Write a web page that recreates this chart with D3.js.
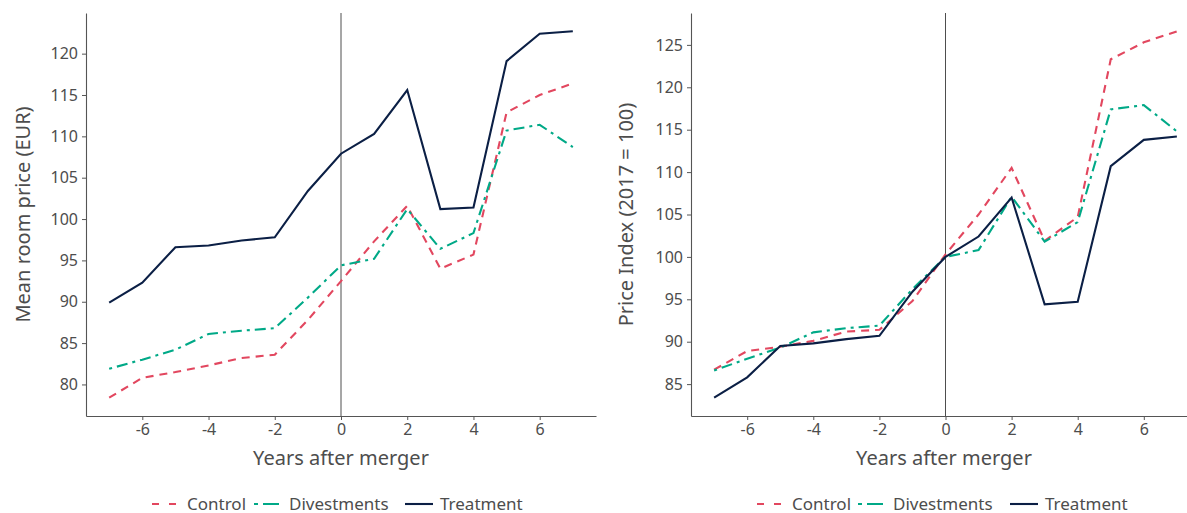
<!DOCTYPE html>
<html>
<head>
<meta charset="utf-8">
<script src="https://cdn.jsdelivr.net/npm/d3@7"></script>
<style>
  body { margin: 0; background: #fff; }
  svg text { font-family: "Noto Sans", "Open Sans", sans-serif; fill: #4d4d4d; }
</style>
</head>
<body>
<div id="chart"></div>
<script>
// years after merger
const years = [-7, -6, -5, -4, -3, -2, -1, 0, 1, 2, 3, 4, 5, 6, 7];

// left panel: mean room price (EUR)
const priceControl     = [78.4, 80.8, 81.5, 82.3, 83.2, 83.6, 87.8, 92.5, 97.3, 101.6, 94.0, 95.7, 112.9, 115.0, 116.4];
const priceDivestments = [81.9, 83.0, 84.2, 86.1, 86.5, 86.8, 90.5, 94.4, 95.2, 101.2, 96.4, 98.3, 110.7, 111.4, 108.7];
const priceTreatment   = [89.9, 92.3, 96.6, 96.8, 97.4, 97.8, 103.4, 107.9, 110.3, 115.6, 101.2, 101.4, 119.1, 122.4, 122.7];

// right panel: price index (2017 = 100)
const indexControl     = [86.7, 88.9, 89.4, 90.1, 91.2, 91.4, 94.8, 100.3, 105.0, 110.5, 101.9, 104.7, 123.3, 125.3, 126.6];
const indexDivestments = [86.6, 88.0, 89.3, 91.1, 91.6, 91.9, 96.2, 100.0, 100.8, 107.1, 101.8, 104.1, 117.4, 117.9, 114.8];
const indexTreatment   = [83.4, 85.8, 89.5, 89.8, 90.3, 90.7, 95.9, 100.0, 102.4, 107.0, 94.4, 94.7, 110.7, 113.8, 114.2];

const xTicks = [-6, -4, -2, 0, 2, 4, 6];
const leftTicks = [80, 85, 90, 95, 100, 105, 110, 115, 120];
const rightTicks = [85, 90, 95, 100, 105, 110, 115, 120, 125];

const seriesNames = ["Control", "Divestments", "Treatment"];
const colors = { Control: "#e2475f", Divestments: "#00a987", Treatment: "#0b1f45" };
const dashes = { Control: "8,6", Divestments: "3,5,11,5", Treatment: null };
const keyDashes = { Control: "7,10", Divestments: "4,5,16,5", Treatment: null };

const W = 1187, H = 513;
const svg = d3.select("#chart").append("svg")
    .attr("width", W)
    .attr("height", H);

function drawPanel(cfg) {
    const top = 13, bottom = 416;

    // x scale: ggplot style 5% expansion
    const x = d3.scaleLinear().domain([-7.7, 7.7]).range([cfg.left, cfg.right]);
    const yMin = d3.min(cfg.series, s => d3.min(s.values));
    const yMax = d3.max(cfg.series, s => d3.max(s.values));
    const pad = (yMax - yMin) * 0.05;
    const y = d3.scaleLinear().domain([yMin - pad, yMax + pad]).range([bottom, top]);

    const g = svg.append("g");

    // x axis (plain hyphen for negatives, like the original)
    const xAxis = g.append("g")
        .attr("transform", `translate(0,${bottom})`)
        .call(d3.axisBottom(x).tickValues(xTicks).tickFormat(d => String(d))
            .tickSize(4).tickPadding(4).tickSizeOuter(0));
    xAxis.select(".domain").attr("stroke", "#555").attr("stroke-width", 1.1);
    xAxis.selectAll(".tick line").attr("stroke", "#555");
    xAxis.selectAll("text").style("font-size", "16px").attr("fill", "#4d4d4d");

    // y axis
    const yAxis = g.append("g")
        .attr("transform", `translate(${cfg.left},0)`)
        .call(d3.axisLeft(y).tickValues(cfg.yTicks).tickFormat(d => String(d))
            .tickSize(4).tickPadding(4).tickSizeOuter(0));
    yAxis.select(".domain").attr("stroke", "#555").attr("stroke-width", 1.1);
    yAxis.selectAll(".tick line").attr("stroke", "#555");
    yAxis.selectAll("text").style("font-size", "16px").attr("fill", "#4d4d4d");

    // merger year reference line
    g.append("line")
        .attr("x1", x(0)).attr("x2", x(0))
        .attr("y1", top).attr("y2", bottom)
        .attr("stroke", "#3a3a3a")
        .attr("stroke-width", 0.9);

    const line = d3.line()
        .x((d, i) => x(years[i]))
        .y(d => y(d));

    cfg.series.forEach(s => {
        g.append("path")
            .datum(s.values)
            .attr("fill", "none")
            .attr("stroke", colors[s.name])
            .attr("stroke-width", 2.1)
            .attr("stroke-dasharray", dashes[s.name])
            .attr("d", line);
    });

    // axis titles
    g.append("text")
        .attr("x", (cfg.left + Math.min(cfg.right, W)) / 2 + cfg.xTitleShift)
        .attr("y", 465)
        .attr("text-anchor", "middle")
        .style("font-size", "20px")
        .text("Years after merger");

    g.append("text")
        .attr("transform", `translate(${cfg.yTitleX},${(top + bottom) / 2}) rotate(-90)`)
        .attr("text-anchor", "middle")
        .style("font-size", "20px")
        .text(cfg.yTitle);

    // legend
    const leg = g.append("g").attr("transform", `translate(0,504)`);
    cfg.legendX.forEach((lx, i) => {
        const name = seriesNames[i];
        leg.append("line")
            .attr("x1", lx).attr("x2", lx + 28)
            .attr("y1", 0).attr("y2", 0)
            .attr("stroke", colors[name])
            .attr("stroke-width", 2.1)
            .attr("stroke-dasharray", keyDashes[name]);
        leg.append("text")
            .attr("x", lx + 35)
            .attr("y", 0)
            .attr("dy", "0.35em")
            .style("font-size", "17px")
            .text(name);
    });
}

drawPanel({
    left: 86, right: 596,
    yTicks: leftTicks,
    yTitle: "Mean room price (EUR)",
    yTitleX: 30,
    xTitleShift: 0,
    legendX: [152, 254, 405],
    series: [
        { name: "Control", values: priceControl },
        { name: "Divestments", values: priceDivestments },
        { name: "Treatment", values: priceTreatment }
    ]
});

drawPanel({
    left: 691, right: 1200,
    yTicks: rightTicks,
    yTitle: "Price Index (2017 = 100)",
    yTitleX: 633,
    xTitleShift: 5,
    legendX: [757, 858, 1010],
    series: [
        { name: "Control", values: indexControl },
        { name: "Divestments", values: indexDivestments },
        { name: "Treatment", values: indexTreatment }
    ]
});
</script>
</body>
</html>
